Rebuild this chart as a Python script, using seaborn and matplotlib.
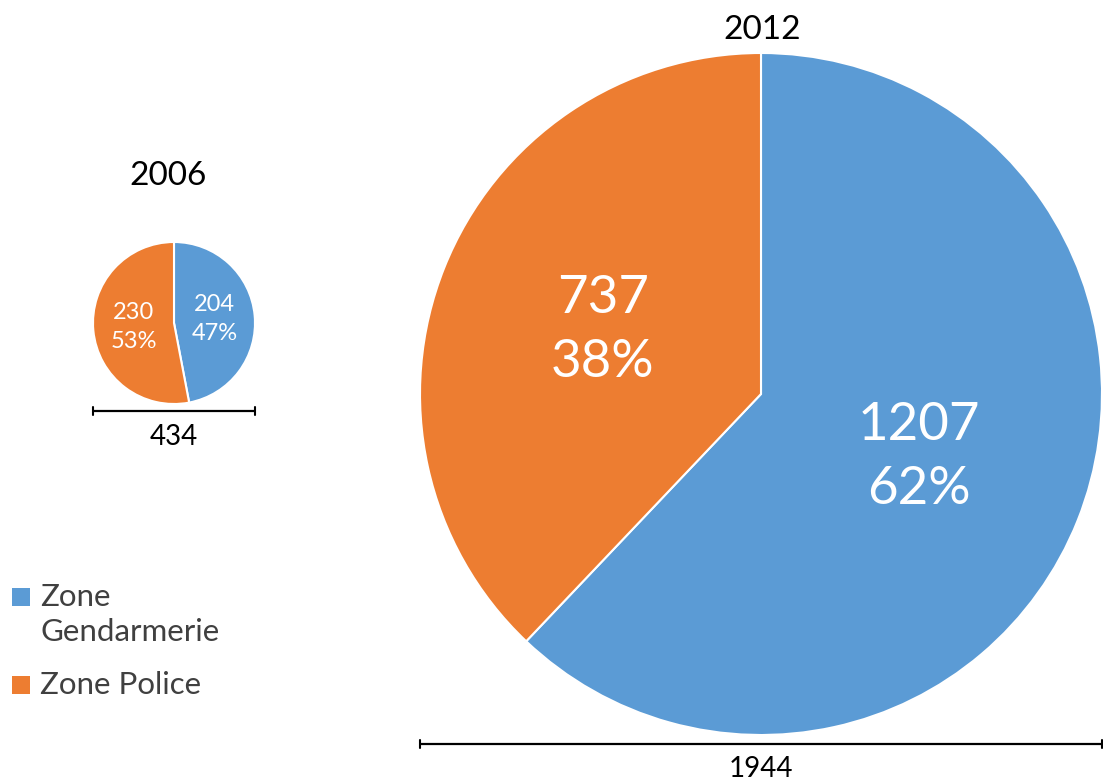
import matplotlib
matplotlib.use("Agg")
import matplotlib.pyplot as plt
from matplotlib.patches import Rectangle
import numpy as np
import seaborn as sns

years = ["2006", "2012"]
categories = ["Zone Gendarmerie", "Zone Police"]
legend_labels = ["Zone\nGendarmerie", "Zone Police"]
gendarmerie = [204, 1207]
police = [230, 737]
totals = [434, 1944]
pct_gend = [47, 62]
pct_police = [53, 38]

sns.set_theme(style="white")
plt.rcParams['font.family'] = ['Lato', 'DejaVu Sans']
colors = ["#5B9BD5", "#ED7D31"]

W, H = 1103, 781
fig = plt.figure(figsize=(W / 100, H / 100), dpi=100)
ax = fig.add_axes([0, 0, 1, 1])

# layout (pixel coords, y from top)
centers = [(174, 323), (761, 394)]
radii = [81, 341]
label_sizes = [17, 38]
title_pos = [(168, 176), (762, 30)]
bar_gap = [7, 9]
total_pos_y = [437, 769]

for i in range(2):
    cx, cy = centers[i]
    r = radii[i]
    vals = [gendarmerie[i], police[i]]
    pcts = [pct_gend[i], pct_police[i]]
    wedges, _ = ax.pie(vals, colors=colors, startangle=90, counterclock=False,
                       center=(cx, H - cy), radius=r, frame=True,
                       wedgeprops=dict(edgecolor="white", linewidth=1.5))
    total = sum(vals)
    start = 90.0
    for v, p in zip(vals, pcts):
        span = 360.0 * v / total
        mid = np.deg2rad(start - span / 2)
        start -= span
        ax.text(cx + 0.5 * r * np.cos(mid), H - cy + 0.5 * r * np.sin(mid),
                f"{v}\n{p}%", ha="center", va="center", color="white",
                fontsize=label_sizes[i], linespacing=1.45)
    tx, ty = title_pos[i]
    ax.text(tx, H - ty, years[i], ha="center", va="center", fontsize=24, color="black")
    by = H - (cy + r + bar_gap[i])
    ax.plot([cx - r, cx + r], [by, by], color="black", lw=1.6, solid_capstyle="butt")
    for xe in (cx - r, cx + r):
        ax.plot([xe, xe], [by - 4, by + 4], color="black", lw=1.5)
    ax.text(cx, H - total_pos_y[i], str(totals[i]), ha="center", va="center",
            fontsize=20, color="black")

# legend (manual, first line aligned with swatch)
leg_y = [597, 685]
for lab, col, ly in zip(legend_labels, colors, leg_y):
    ax.add_patch(Rectangle((12, H - ly - 9), 18, 18, facecolor=col, edgecolor="none"))
    ax.text(40, H - ly + 14, lab, ha="left", va="top", fontsize=22.5,
            color="#404040", linespacing=1.3)

ax.set_xlim(0, W)
ax.set_ylim(0, H)
ax.set_aspect("equal")
ax.axis("off")

fig.savefig("out.png", dpi=100)
